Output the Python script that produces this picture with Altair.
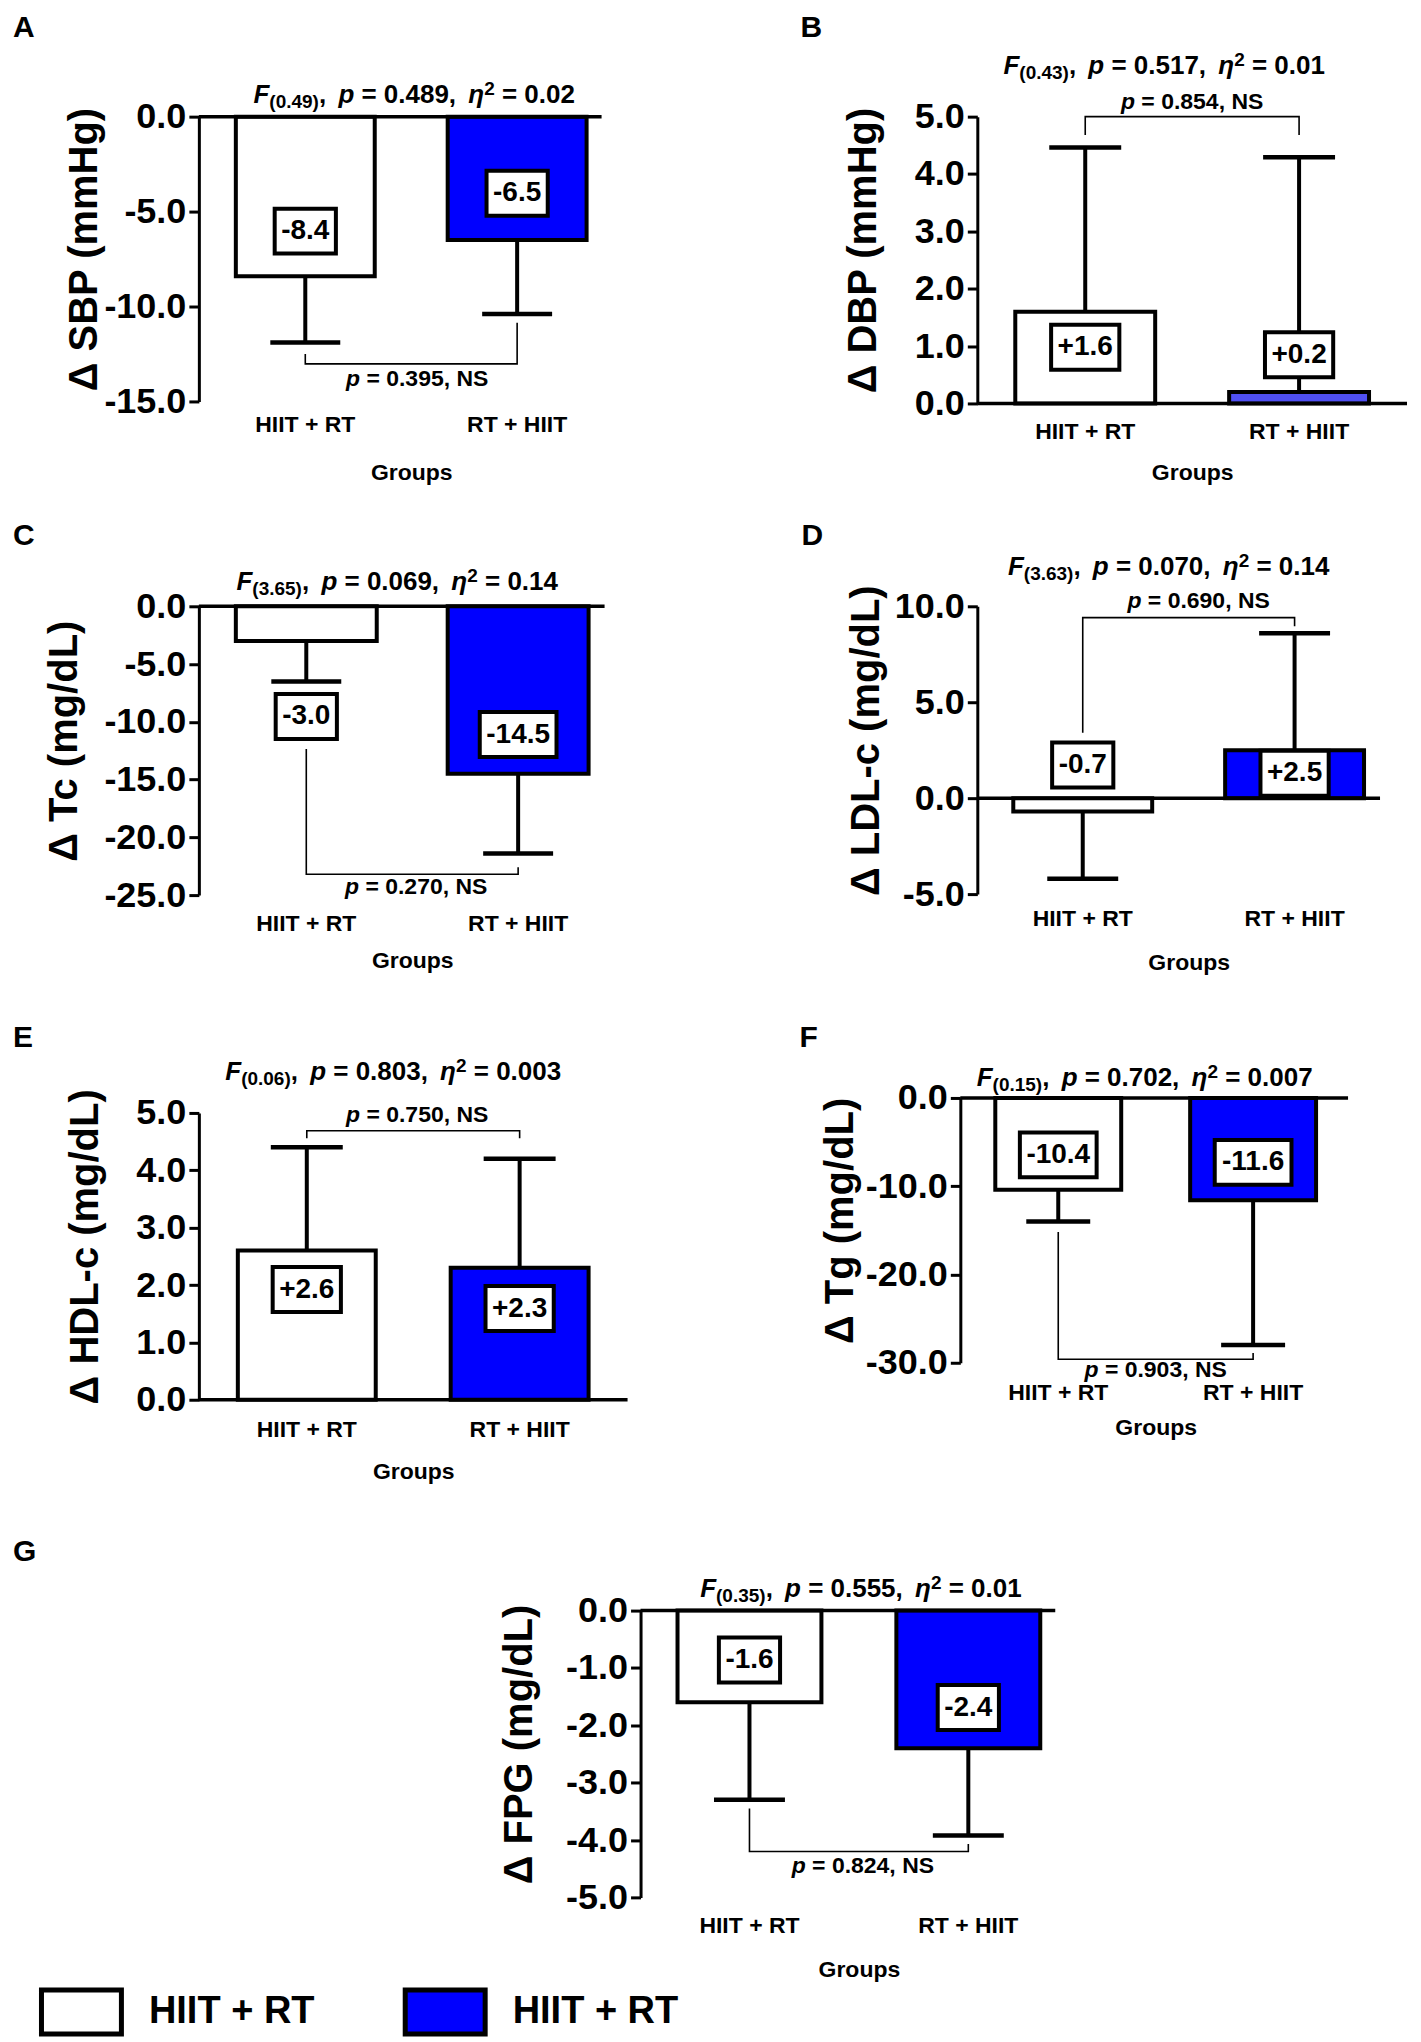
import altair as alt
import pandas as pd

FONT = "Liberation Sans"
BLUE = "#0000ff"
LIGHT_BLUE = "#5050f2"

# ---------------- data ----------------
groups = ["HIIT + RT", "RT + HIIT"]

letters = ["A", "B", "C", "D", "E", "F", "G"]
y_titles = ["Δ SBP (mmHg)", "Δ DBP (mmHg)", "Δ Tc (mg/dL)", "Δ LDL-c (mg/dL)",
            "Δ HDL-c (mg/dL)", "Δ Tg (mg/dL)", "Δ FPG (mg/dL)"]

sbp_mean = [-8.4, -6.5]
sbp_sd_end = [-11.9, -10.4]
dbp_mean = [1.6, 0.2]
dbp_sd_end = [4.46, 4.29]
tc_mean = [-3.0, -14.5]
tc_sd_end = [-6.5, -21.4]
ldl_mean = [-0.7, 2.5]
ldl_sd_end = [-4.2, 8.6]
hdl_mean = [2.6, 2.3]
hdl_sd_end = [4.4, 4.2]
tg_mean = [-10.4, -11.6]
tg_sd_end = [-14.0, -28.0]
fpg_mean = [-1.6, -2.4]
fpg_sd_end = [-3.3, -3.92]

means = [sbp_mean, dbp_mean, tc_mean, ldl_mean, hdl_mean, tg_mean, fpg_mean]
sd_ends = [sbp_sd_end, dbp_sd_end, tc_sd_end, ldl_sd_end, hdl_sd_end, tg_sd_end, fpg_sd_end]

f_values = ["0.49", "0.43", "3.65", "3.63", "0.06", "0.15", "0.35"]
anova_p = ["0.489", "0.517", "0.069", "0.070", "0.803", "0.702", "0.555"]
eta_sq = ["0.02", "0.01", "0.14", "0.14", "0.003", "0.007", "0.01"]
pair_p = ["0.395", "0.854", "0.270", "0.690", "0.750", "0.903", "0.824"]

y_domains = [[-15, 0], [0, 5], [-25, 0], [-5, 10], [0, 5], [-30, 0], [-5, 0]]
y_ticks = [[0, -5, -10, -15], [0, 1, 2, 3, 4, 5], [0, -5, -10, -15, -20, -25],
           [-5, 0, 5, 10], [0, 1, 2, 3, 4, 5], [0, -10, -20, -30],
           [0, -1, -2, -3, -4, -5]]

# value-box centres (data units)
box_centres = [[-6.03, -4.04], [0.98, 0.85], [-9.54, -11.1], [1.73, 1.3],
               [1.92, 1.59], [-6.45, -7.3], [-0.86, -1.69]]
# bracket: [left end, bar level, right end] (data units)
brackets = [[-12.5, -13.02, -10.85], [4.68, 5.0, 4.68], [-12.35, -23.2, -22.6],
            [3.41, 9.41, 8.96], [4.56, 4.69, 4.56], [-15.2, -29.6, -28.9],
            [-3.45, -4.2, -4.07]]
pair_p_y = [-13.8, 5.26, -24.3, 10.28, 4.96, -30.8, -4.45]

# ---------------- layout / style ----------------
layouts = [
    dict(W=403, H=285, left=37, bw=139, step=212, cap=70, letter=(-186, -104), tdx=3, tby=-14, pdx=6, ytx=-94, xpad=12, gy=71),
    dict(W=430, H=287, left=38, bw=140, step=214, cap=72, letter=(-177, -104), tdx=-28, tby=-43, pdx=0, ytx=-94, xpad=17, gy=69),
    dict(W=406, H=289, left=37, bw=141, step=212, cap=70, letter=(-186, -85), tdx=-15, tby=-16, pdx=4, ytx=-114, xpad=17, gy=65),
    dict(W=403, H=288, left=36, bw=139, step=212, cap=71, letter=(-176, -85), tdx=-20, tby=-31, pdx=10, ytx=-91, xpad=13, gy=68),
    dict(W=429, H=287, left=39, bw=138, step=213, cap=72, letter=(-186, -90), tdx=-20, tby=-33, pdx=4, ytx=-93, xpad=19, gy=72),
    dict(W=388, H=265, left=35, bw=126, step=195, cap=64, letter=(-161, -75), tdx=-11, tby=-12, pdx=0, ytx=-100, xpad=19, gy=65),
    dict(W=415, H=287, left=37, bw=144, step=219, cap=71, letter=(-628, -74), tdx=2, tby=-14, pdx=4, ytx=-101, xpad=17, gy=72),
]

ONE = pd.DataFrame({"k": [0]})

ARIAL_BOLD = {" ": .278, "(": .333, ")": .333, ",": .278, ".": .278, "=": .584,
              "+": .584, "-": .333, "F": .611, "p": .611, "η": .611, "N": .722, "S": .667}


def tw(s, size):
    return size * sum(ARIAL_BOLD.get(c, 0.556) for c in s)


def text_runs(segs, cx, y_channel, baseline):
    total = sum(tw(t, s) + ex for (t, s, it, dy, ex) in segs)
    x = cx - total / 2
    out = []
    for t, s, it, dy, ex in segs:
        lead = len(t) - len(t.lstrip(" "))
        shown = t.strip(" ")
        if shown:
            out.append(
                alt.Chart(ONE).mark_text(
                    font=FONT, fontSize=s, fontWeight="bold",
                    fontStyle="italic" if it else "normal",
                    align="left", baseline=baseline, dy=dy, color="black", text=shown,
                ).encode(x=alt.value(x + tw(" " * lead, s)), y=y_channel)
            )
        x += tw(t, s) + ex
    return out


def panel(i):
    L = layouts[i]
    W, H = L["W"], L["H"]
    ymin, ymax = y_domains[i]
    ppu = H / (ymax - ymin)
    half = 22.5 / ppu
    labels = [f"{v:+.1f}" for v in means[i]]
    colors = ["white", LIGHT_BLUE if i == 1 else BLUE]
    df = pd.DataFrame({
        "group": groups,
        "mean": means[i],
        "sd_end": sd_ends[i],
        "zero": [0, 0],
        "color": colors,
        "label": labels,
        "box_c": box_centres[i],
        "box_lo": [c - half for c in box_centres[i]],
        "box_hi": [c + half for c in box_centres[i]],
    })

    left, bw, step = L["left"], L["bw"], L["step"]
    pi = 1 - bw / step
    outer = W - step - bw
    po = outer / (2 * step)
    al = left / outer
    mid = left + bw / 2 + step / 2

    xs = alt.Scale(domain=groups, paddingInner=pi, paddingOuter=po, align=al)
    ys = alt.Scale(domain=[ymin, ymax], nice=False, zero=False)

    x_axis = alt.Axis(domain=False, ticks=False, grid=False, labelAngle=0,
                      labelFont=FONT, labelFontSize=23, labelFontWeight="bold",
                      labelColor="black", labelPadding=L["xpad"], labelLimit=400,
                      title="Groups", titleFont=FONT, titleFontSize=23,
                      titleFontWeight="bold", titleColor="black",
                      titleX=mid, titleY=L["gy"], titleBaseline="middle", titleAlign="center")
    y_axis = alt.Axis(values=y_ticks[i],
                      labelExpr="replace(format(datum.value, '.1f'), '\u2212', '-')",
                      labelFont=FONT, labelFontSize=36, labelFontWeight="bold",
                      labelColor="black", labelPadding=3, labelFlush=False,
                      labelOverlap=False, grid=False,
                      domainColor="black", domainWidth=3,
                      tickColor="black", tickWidth=3, tickSize=10,
                      title=y_titles[i], titleFont=FONT, titleFontSize=40,
                      titleFontWeight="bold", titleColor="black",
                      titleAngle=-90, titleX=L["ytx"], titleY=H / 2 - 10,
                      titleBaseline="bottom", titleAlign="center")

    if i == 6:
        fill = alt.Fill(
            "group:N",
            scale=alt.Scale(domain=groups, range=["white", BLUE]),
            legend=alt.Legend(
                orient="none", legendX=-602, legendY=359, direction="horizontal",
                title=None, symbolType="M-1,-0.55L1,-0.55L1,0.55L-1,0.55Z",
                symbolSize=6400, symbolStrokeWidth=5, symbolStrokeColor="black",
                symbolOpacity=1, labelFont=FONT, labelFontSize=38,
                labelFontWeight="bold", labelColor="black", labelOffset=25,
                labelLimit=600, columnPadding=80, padding=0,
                labelExpr="'HIIT + RT'",
            ),
        )
    else:
        fill = alt.Fill("color:N", scale=None)

    bars = alt.Chart(df).mark_bar(stroke="black", strokeWidth=4).encode(
        x=alt.X("group:N", scale=xs, axis=x_axis),
        y=alt.Y("mean:Q", scale=ys, axis=y_axis),
        y2="zero:Q",
        fill=fill,
    )
    zero_line = alt.Chart(ONE).mark_rule(color="black", strokeWidth=3.5).encode(
        y=alt.datum(0), x=alt.value(0), x2=alt.value(W))
    stems = alt.Chart(df).mark_rule(color="black", strokeWidth=4).encode(
        x="group:N", y="mean:Q", y2="sd_end:Q")
    caps = alt.Chart(df).mark_tick(color="black", opacity=1, thickness=4.5,
                                   size=L["cap"]).encode(x="group:N", y="sd_end:Q")

    br = brackets[i]
    df_br = pd.DataFrame({"group": [groups[0], groups[0], groups[1], groups[1]],
                          "y": [br[0], br[1], br[1], br[2]], "o": [0, 1, 2, 3]})
    bracket = alt.Chart(df_br).mark_line(color="black", strokeWidth=1.6).encode(
        x="group:N", y="y:Q", order="o:Q")

    boxes = []
    for j in range(2):
        bwid = tw(labels[j], 28) + 13
        boxes.append(
            alt.Chart(df.iloc[[j]]).mark_bar(fill="white", stroke="black",
                                             strokeWidth=4, width=bwid).encode(
                x="group:N", y="box_lo:Q", y2="box_hi:Q"))
    box_text = alt.Chart(df).mark_text(font=FONT, fontSize=28, fontWeight="bold",
                                       color="black", baseline="middle").encode(
        x="group:N", y="box_c:Q", text="label:N")

    p_runs = text_runs([("p", 23, True, 0, 0), (f" = {pair_p[i]}, NS", 23, False, 0, 0)],
                       mid + L["pdx"], alt.datum(pair_p_y[i]), "middle")

    M, S = 26, 19
    title_segs = [
        ("F", M, True, 0, 0),
        (f"({f_values[i]})", S, False, 5, 0),
        (", ", M, False, 0, 5),
        ("p", M, True, 0, 0),
        (f" = {anova_p[i]}, ", M, False, 0, 5),
        ("η", M, True, 0, 0),
        ("2", S, False, -8, 0),
        (f" = {eta_sq[i]}", M, False, 0, 0),
    ]
    t_runs = text_runs(title_segs, mid + L["tdx"], alt.value(L["tby"]), "alphabetic")

    letter = alt.Chart(ONE).mark_text(font=FONT, fontSize=30, fontWeight="bold",
                                      color="black", align="left", baseline="top",
                                      text=letters[i]).encode(
        x=alt.value(L["letter"][0]), y=alt.value(L["letter"][1]))

    return alt.layer(bars, zero_line, stems, caps, bracket, *boxes, box_text,
                     *p_runs, *t_runs, letter).properties(width=W, height=H)


def spacer(w, h):
    return alt.Chart(ONE).mark_point(opacity=0).properties(width=w, height=h)


def indep(c):
    return c.resolve_scale(x="independent", y="independent", fill="independent") \
            .resolve_legend(fill="independent")


P = [panel(i) for i in range(7)]

# with flush bounds a nested concat counts as zero-sized, so offsets come from spacing / spacers
row1 = indep(alt.hconcat(P[0], P[1], spacing=376, bounds="flush"))
row2 = indep(alt.hconcat(P[2], P[3], spacing=373, bounds="flush"))
e_col = indep(alt.vconcat(spacer(10, 15), P[4], spacing=0, bounds="flush"))
row3 = indep(alt.hconcat(e_col, P[5], spacing=762, bounds="flush"))
row4 = indep(alt.hconcat(spacer(442, 10), P[6], spacing=0, bounds="flush"))

chart = indep(alt.vconcat(row1, spacer(10, 490), row2, spacer(10, 492), row3,
                          spacer(10, 513), row4, spacing=0, bounds="flush")) \
    .properties(padding={"left": 5, "top": 4, "right": 4, "bottom": 2}) \
    .configure(font=FONT) \
    .configure_view(strokeWidth=0)

chart.save("out.html", embed_options={"renderer": "svg", "actions": False})
